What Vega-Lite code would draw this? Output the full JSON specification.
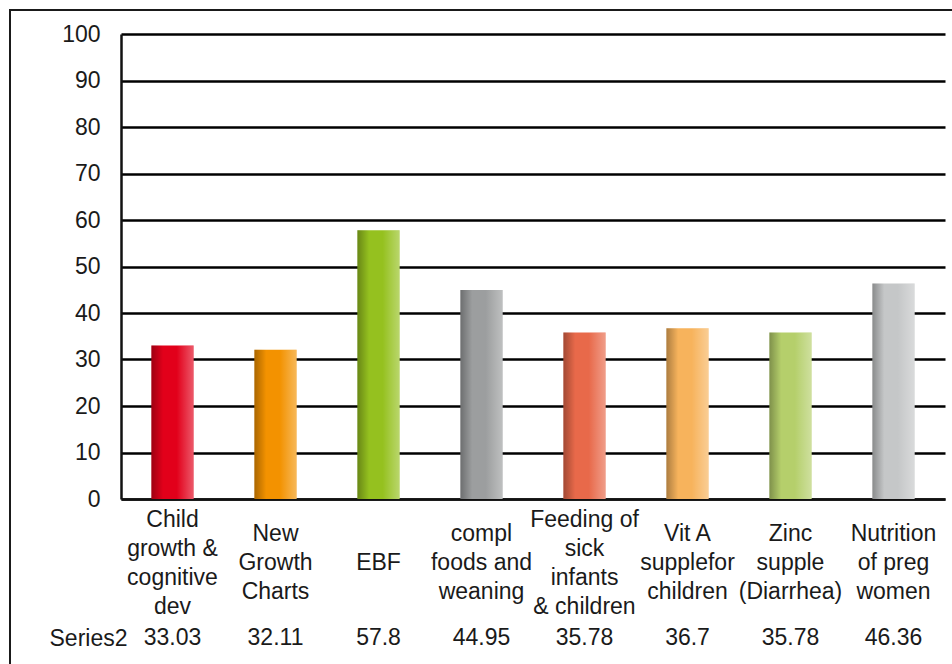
{
  "$schema": "https://vega.github.io/schema/vega-lite/v6.json",
  "width": 960,
  "height": 670,
  "autosize": {"type": "none"},
  "padding": {"left": 10, "top": 10, "right": 0, "bottom": 0},
  "background": "white",
  "config": {
    "view": {"stroke": "#1a1a1a", "strokeWidth": 2},
    "axis": {
      "labelFont": "Liberation Sans",
      "labelFontSize": 23,
      "labelColor": "#1a1a1a",
      "labelLimit": 0,
      "labelOverlap": false,
      "labelBound": false,
      "labelFlush": false,
      "title": null
    },
    "axisX": {
      "orient": "bottom",
      "offset": -181,
      "domain": true,
      "domainColor": "#111111",
      "domainWidth": 2.5,
      "ticks": false,
      "tickSize": 0,
      "grid": false,
      "labelAngle": 0,
      "labelAlign": "center",
      "labelBaseline": "top",
      "labelPadding": 9,
      "labelLineHeight": 14.5
    },
    "text": {"font": "Liberation Sans", "fontSize": 23, "color": "#1a1a1a"}
  },
  "data": {
    "values": [
      {"topic": "Child|growth &|cognitive|dev", "series": "Series2", "value": 33.03},
      {"topic": "New|Growth|Charts", "series": "Series2", "value": 32.11},
      {"topic": "EBF", "series": "Series2", "value": 57.8},
      {"topic": "compl|foods and|weaning", "series": "Series2", "value": 44.95},
      {"topic": "Feeding of|sick|infants|& children", "series": "Series2", "value": 35.78},
      {"topic": "Vit A|supplefor|children", "series": "Series2", "value": 36.7},
      {"topic": "Zinc|supple|(Diarrhea)", "series": "Series2", "value": 35.78},
      {"topic": "Nutrition|of preg|women", "series": "Series2", "value": 46.36}
    ]
  },
  "layer": [
    {
      "mark": {"type": "bar"},
      "encoding": {
        "x": {
          "field": "topic",
          "type": "nominal",
          "sort": null,
          "scale": {"range": [111, 935], "paddingInner": 0.59, "paddingOuter": 0.295},
          "axis": {
            "labelExpr": "split(substring('\u200b|\u200b|\u200b|', 0, 2 * (4 - length(split(datum.label, '|')))) + replace(datum.label, regexp('\\\\|', 'g'), '|\u200b|'), '|')"
          }
        },
        "y": {
          "field": "value",
          "type": "quantitative",
          "scale": {"domain": [0, 100], "range": [489, 24], "nice": false, "zero": true},
          "axis": {
            "orient": "left",
            "offset": -111,
            "values": [0, 10, 20, 30, 40, 50, 60, 70, 80, 90, 100],
            "domain": true,
            "domainColor": "#111111",
            "domainWidth": 2.5,
            "ticks": false,
            "tickSize": 0,
            "grid": true,
            "gridColor": "#000000",
            "gridWidth": 2.5,
            "gridOpacity": 1,
            "labelPadding": 21
          }
        },
        "color": {
          "field": "topic",
          "type": "nominal",
          "sort": null,
          "legend": null,
          "scale": {
            "range": ["#e2001a", "#f39200", "#95c11f", "#9c9e9f", "#e8694a", "#f7b35c", "#b5cf6b", "#c5c7c8"]
          }
        }
      }
    },
    {
      "mark": {
        "type": "bar",
        "fill": {
          "gradient": "linear",
          "x1": 0, "y1": 0, "x2": 1, "y2": 0,
          "stops": [
            {"offset": 0, "color": "rgba(0,0,0,0.3)"},
            {"offset": 0.28, "color": "rgba(0,0,0,0)"},
            {"offset": 0.6, "color": "rgba(255,255,255,0)"},
            {"offset": 1, "color": "rgba(255,255,255,0.35)"}
          ]
        }
      },
      "encoding": {
        "x": {
          "field": "topic",
          "type": "nominal",
          "sort": null,
          "axis": {
            "labelExpr": "split(substring('\u200b|\u200b|\u200b|', 0, 2 * (4 - length(split(datum.label, '|')))) + replace(datum.label, regexp('\\\\|', 'g'), '|\u200b|'), '|')"
          }
        },
        "y": {
          "field": "value",
          "type": "quantitative",
          "scale": {"domain": [0, 100], "range": [489, 24], "nice": false, "zero": true},
          "axis": null
        }
      }
    },
    {
      "mark": {"type": "text", "align": "center", "baseline": "middle"},
      "encoding": {
        "x": {
          "field": "topic",
          "type": "nominal",
          "sort": null,
          "axis": {
            "labelExpr": "split(substring('\u200b|\u200b|\u200b|', 0, 2 * (4 - length(split(datum.label, '|')))) + replace(datum.label, regexp('\\\\|', 'g'), '|\u200b|'), '|')"
          }
        },
        "y": {
          "field": "series",
          "type": "nominal",
          "scale": {"type": "point", "range": [620, 636], "padding": 0.5},
          "axis": {
            "orient": "left",
            "offset": -117,
            "domain": false,
            "ticks": false,
            "tickSize": 0,
            "grid": false,
            "labelPadding": 0
          }
        },
        "text": {"field": "value", "type": "quantitative"}
      }
    }
  ],
  "resolve": {"scale": {"y": "independent"}, "axis": {"y": "independent"}}
}
